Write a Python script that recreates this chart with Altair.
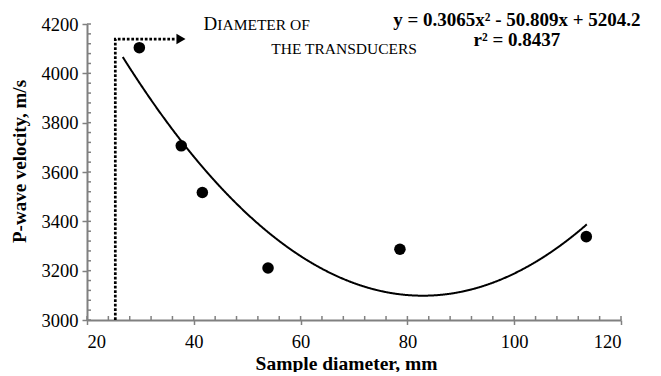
import altair as alt
import pandas as pd

# ---- data ----
diameter_mm = [29.8, 37.65, 41.6, 53.9, 78.6, 113.5]
velocity_ms = [4104, 3706, 3517, 3211, 3287, 3338]

# stated quadratic trend line y = a x^2 + b x + c, and its drawn extent
trend_coef = [0.3065, -50.809, 5204.2]
trend_start, trend_stop, trend_step = 26.7, 113.65, 0.1

x_major = [20, 40, 60, 80, 100, 120]
x_minor = list(range(20, 121, 4))
y_major = list(range(3000, 4201, 200))
y_minor = list(range(3000, 4201, 40))

# transducer-diameter marker (dotted elbow + arrowhead)
marker_x = [25.3, 25.3, 36.5]
marker_y = [3000, 4139, 4139]
marker_order = [0, 1, 2]
arrow_x = [37.6]
arrow_y = [4139]

# small-caps annotation pieces
note_text = ["D", "IAMETER OF", "THE TRANSDUCERS"]
note_x = [41.8, 44.4, 54.5]
note_y = [4175, 4175, 4078]
note_size = [19, 15.5, 15.5]

eq_text = ["y = 0.3065x\u00b2 - 50.809x + 5204.2", "r\u00b2 = 0.8437"]
eq_x = [100.5, 100.5]
eq_y = [4190, 4109]

FONT = "Liberation Serif"
GREY = "#808080"
W, H = 534, 296

xs = alt.Scale(domain=[20, 120], nice=False, zero=False)
ys = alt.Scale(domain=[3000, 4200], nice=False, zero=False)

pts = pd.DataFrame({"d": diameter_mm, "v": velocity_ms})
marker = pd.DataFrame({"d": marker_x, "v": marker_y, "o": marker_order})
arrow = pd.DataFrame({"d": arrow_x, "v": arrow_y})
notes = pd.DataFrame({"t": note_text, "d": note_x, "v": note_y, "s": note_size})
eqs = pd.DataFrame({"t": eq_text, "d": eq_x, "v": eq_y})
xmin_df = pd.DataFrame({"d": x_minor})
ymin_df = pd.DataFrame({"v": y_minor})

x_axis = alt.Axis(
    values=x_major, orient="bottom", grid=False, format="d",
    domainColor=GREY, domainWidth=2, tickColor=GREY, tickWidth=1.5, tickSize=4.5,
    labelFont=FONT, labelFontSize=18.5, labelColor="black", labelPadding=23,
    labelBaseline="alphabetic",
    title="Sample diameter, mm", titleFont=FONT, titleFontSize=19.5,
    titleFontWeight="bold", titleColor="black", titleX=259, titleY=49,
    titleBaseline="alphabetic", titleAlign="center",
)
y_axis = alt.Axis(
    values=y_major, orient="left", grid=False, format="d",
    domainColor=GREY, domainWidth=2, tickColor=GREY, tickWidth=1.5, tickSize=5,
    labelFont=FONT, labelFontSize=18.5, labelColor="black", labelPadding=4,
    title="P-wave velocity, m/s", titleFont=FONT, titleFontSize=19,
    titleFontWeight="bold", titleColor="black", titleX=-62, titleY=137,
    titleBaseline="alphabetic", titleAlign="center",
)

X = alt.X("d:Q", scale=xs, axis=x_axis)
Y = alt.Y("v:Q", scale=ys, axis=y_axis)

# inside minor ticks (positions from the scales, lengths are style)
x_minor_ticks = alt.Chart(xmin_df).mark_rule(color=GREY, strokeWidth=1.5).encode(
    x=X, y=alt.value(H - 4), y2=alt.value(H),
)
y_minor_ticks = alt.Chart(ymin_df).mark_rule(color=GREY, strokeWidth=1.5).encode(
    y=Y, x=alt.value(0), x2=alt.value(4),
)

points = alt.Chart(pts).mark_circle(color="black", opacity=1, size=133).encode(x=X, y=Y)

a, b, c = trend_coef
curve = (
    alt.Chart(alt.sequence(trend_start, trend_stop, trend_step, as_="d"))
    .transform_calculate(v=f"{a}*datum.d*datum.d + ({b})*datum.d + {c}")
    .mark_line(color="black", strokeWidth=2)
    .encode(x=X, y=Y)
)

dotted = alt.Chart(marker).mark_line(
    color="black", strokeWidth=2.7, strokeDash=[2.7, 1.8]
).encode(x=X, y=Y, order="o:Q")

head = alt.Chart(arrow).mark_point(
    shape="triangle-right", filled=True, color="black", opacity=1, size=110
).encode(x=X, y=Y)

note = alt.Chart(notes).mark_text(
    font=FONT, align="left", baseline="alphabetic", color="black"
).encode(
    x=X, y=Y, text="t:N",
    size=alt.Size("s:Q", scale=None, legend=None),
)

equation = alt.Chart(eqs).mark_text(
    font=FONT, fontSize=19, fontWeight="bold", align="center",
    baseline="alphabetic", color="black",
).encode(x=X, y=Y, text="t:N")

chart = (
    alt.layer(x_minor_ticks, y_minor_ticks, curve, dotted, head, points, note, equation)
    .properties(
        width=W, height=H,
        autosize=alt.AutoSizeParams(type="none"),
        padding={"left": 79, "top": 16, "right": 20, "bottom": 52},
        background="white",
    )
    .configure_view(stroke=None)
    .configure_axis(labelFont=FONT, titleFont=FONT)
)

chart.save("out.html", embed_options={"renderer": "svg", "actions": False})
